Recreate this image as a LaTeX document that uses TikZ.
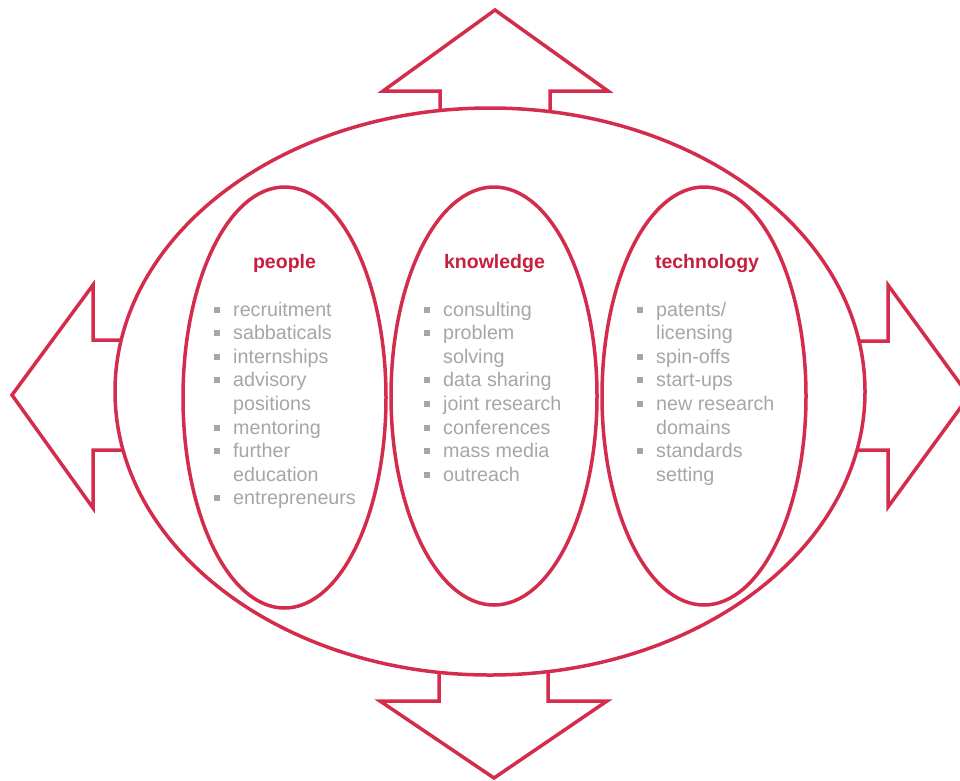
\documentclass[tikz,border=0pt]{standalone}
\usepackage{fontspec}
\setmainfont{Liberation Sans}
\definecolor{ringred}{HTML}{D42C4C}
\definecolor{headred}{HTML}{C81E40}
\definecolor{itemgrey}{HTML}{A6A6A6}
\newcommand{\sqbullet}{\makebox[19pt][l]{\raisebox{3.5pt}{\rule{6pt}{6pt}}}}
\newcommand{\contline}{\hspace*{19pt}}

\begin{document}
\begin{tikzpicture}[x=1pt, y=-1pt,
	ring/.style={draw=ringred, line width=3.5pt, fill=white, line join=miter},
	heading/.style={text=headred, font=\bfseries\fontsize{19.5}{23.6}\selectfont, anchor=base, inner sep=0pt},
	itemlist/.style={text=itemgrey, font=\fontsize{19.7}{23.6}\selectfont, anchor=base west, inner sep=0pt}]
			\useasboundingbox (0,0) rectangle (960,780);
			\clip (0,0) rectangle (960,780);
			
			\coordinate (hub) at (490,391.5);
			\coordinate (people centre) at (284.5,397.5);
			\coordinate (knowledge centre) at (494,396);
			\coordinate (technology centre) at (704,396);
			
			% the four arrows, shafts hidden under the hub
			\begin{scope}[ring]
				\draw (440,150) -- (440,91) -- (383,91) -- (495,10) -- (608,91) -- (550,91) -- (550,150) -- cycle;
				\draw (439,640) -- (439,701) -- (380,701) -- (494,778) -- (607,701) -- (548,701) -- (548,640) -- cycle;
				\draw (150,340) -- (93,340) -- (93,285) -- (12,395) -- (93,508) -- (93,450) -- (150,450) -- cycle;
				\draw (830,341) -- (888,341) -- (888,285) -- (969,396) -- (888,507) -- (888,450) -- (830,450) -- cycle;
			\end{scope}
			
			\draw[ring] (hub) ellipse [x radius=375pt, y radius=283.5pt];
			
			\draw[ring] (people centre) ellipse [x radius=101.5pt, y radius=210.5pt];
			\draw[ring] (knowledge centre) ellipse [x radius=103pt, y radius=209pt];
			\draw[ring] (technology centre) ellipse [x radius=102pt, y radius=209pt];
			
			\node[heading] (people title) at (284.5,268) {people};
			\node[heading] (knowledge title) at (494.5,268) {knowledge};
			\node[heading] (technology title) at (707,268) {technology};
			
			\node[itemlist] (people list) at (214,316) {\begin{tabular}[t]{@{}l@{}}
				\sqbullet recruitment\\
				\sqbullet sabbaticals\\
				\sqbullet internships\\
				\sqbullet advisory\\
				\contline positions\\
				\sqbullet mentoring\\
				\sqbullet further\\
				\contline education\\
				\sqbullet entrepreneurs
			\end{tabular}};
			\node[itemlist] (knowledge list) at (424,316) {\begin{tabular}[t]{@{}l@{}}
				\sqbullet consulting\\
				\sqbullet problem\\
				\contline solving\\
				\sqbullet data sharing\\
				\sqbullet joint research\\
				\sqbullet conferences\\
				\sqbullet mass media\\
				\sqbullet outreach
			\end{tabular}};
			\node[itemlist] (technology list) at (637,316) {\begin{tabular}[t]{@{}l@{}}
				\sqbullet patents/\\
				\contline licensing\\
				\sqbullet spin-offs\\
				\sqbullet start-ups\\
				\sqbullet new research\\
				\contline domains\\
				\sqbullet standards\\
				\contline setting
			\end{tabular}};
		\end{tikzpicture}
\end{document}
